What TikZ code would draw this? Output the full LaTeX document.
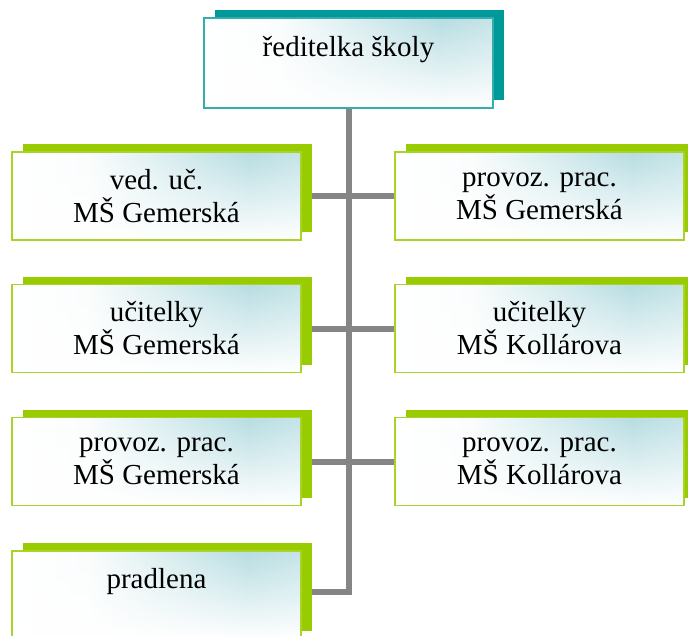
\documentclass[tikz,border=0pt]{standalone}
\usepackage{fontspec}
\setmainfont{Liberation Serif}
\usetikzlibrary{shadows,fadings,backgrounds}
\definecolor{tealsh}{HTML}{009999}
\definecolor{tealbd}{HTML}{33ADAD}
\definecolor{greensh}{HTML}{99CC00}
\definecolor{greenbd}{HTML}{A8D42A}
\definecolor{lt}{HTML}{B7DDE2}
\definecolor{conn}{HTML}{858585}
\pgfdeclarehorizontalshading{boxshade}{100bp}{color(0bp)=(white); color(25bp)=(white); color(38bp)=(white!94!lt); color(66bp)=(lt); color(75bp)=(lt!80!white); color(100bp)=(lt!80!white)}
\tikzfading[name=bottomfade, top color=transparent!100, middle color=transparent!85, bottom color=transparent!0]
\tikzset{
  orgbox/.style={rectangle, minimum width=289pt, minimum height=88pt, inner sep=0pt,
    shading=boxshade, align=center, font=\fontsize{29}{33}\selectfont,
    postaction={fill=white, path fading=bottomfade},
    postaction={draw=#1, line width=1.3pt}},
  greenbox/.style={orgbox=greenbd, general shadow={fill=greensh, shadow xshift=11pt, shadow yshift=8pt}},
  tealbox/.style={orgbox=tealbd, general shadow={fill=tealsh, shadow xshift=11pt, shadow yshift=8pt}},
  connline/.style={draw=conn, line width=6pt, line join=miter}
}
\begin{document}
\begin{tikzpicture}[x=1pt,y=-1pt]
\useasboundingbox (0,0) rectangle (688,635);
\node[tealbox, minimum height=90pt] (top) at (348.5,63) {ředitelka školy\\\mbox{}};
\node[greenbox] (l1) at (156.5,196) {ved. uč.\\MŠ Gemerská};
\node[greenbox] (l2) at (156.5,328.5) {učitelky\\MŠ Gemerská};
\node[greenbox] (l3) at (156.5,461.5) {provoz. prac.\\MŠ Gemerská};
\node[greenbox] (l4) at (156.5,595) {pradlena\\\mbox{}};
\node[greenbox] (r1) at (539.5,196) {provoz. prac.\\MŠ Gemerská};
\node[greenbox] (r2) at (539.5,328.5) {učitelky\\MŠ Kollárova};
\node[greenbox] (r3) at (539.5,461.5) {provoz. prac.\\MŠ Kollárova};
\coordinate (bot) at (348.5,592);
\begin{scope}[on background layer]
\draw[connline] (top.south) -- (bot) -- (bot -| l4.east);
\draw[connline] (l1.east) -- (l1.east -| top.south);
\draw[connline] (l2.east) -- (l2.east -| top.south);
\draw[connline] (l3.east) -- (l3.east -| top.south);
\draw[connline] (r1.west) -- (r1.west -| top.south);
\draw[connline] (r2.west) -- (r2.west -| top.south);
\draw[connline] (r3.west) -- (r3.west -| top.south);
\end{scope}
\end{tikzpicture}
\end{document}
